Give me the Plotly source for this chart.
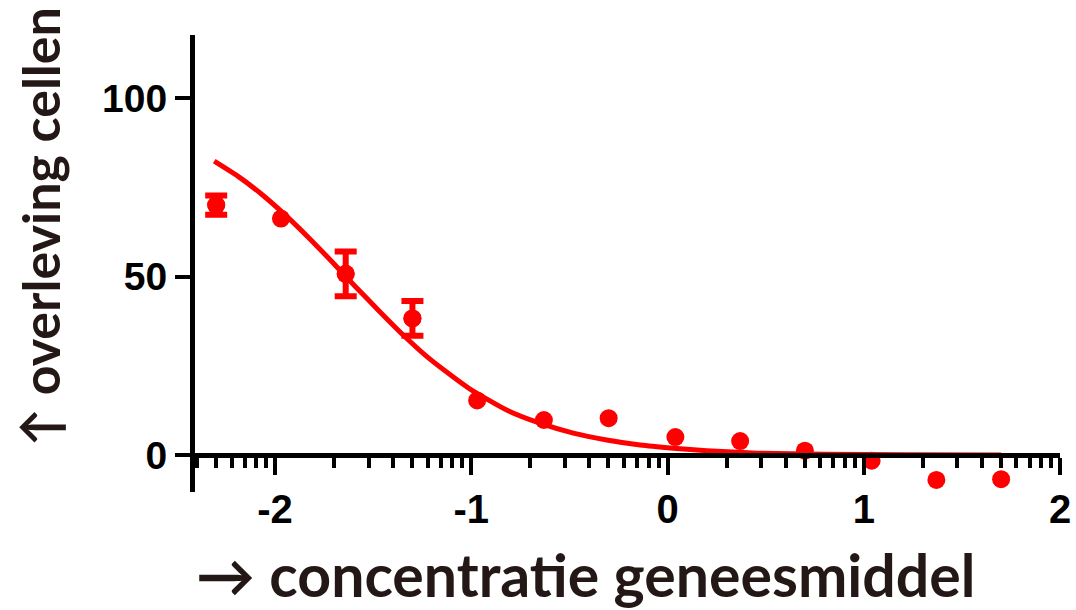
import math
import plotly.graph_objects as go

# ---- data ----
log_conc = [-2.30, -1.97, -1.64, -1.30, -0.97, -0.63, -0.30, 0.04, 0.37, 0.70, 1.04, 1.37, 1.70]
survival = [70.1, 66.3, 50.8, 38.3, 15.3, 9.8, 10.3, 5.0, 3.9, 1.2, -1.6, -7.0, -6.8]
survival_err = [2.7, None, 6.3, 4.9, None, None, None, None, None, None, None, None, None]

fit_x = [-2.31, -2.19, -2.07, -1.95, -1.83, -1.71, -1.59, -1.47, -1.35, -1.22, -1.08,
         -0.99, -0.82, -0.65, -0.48, -0.31, -0.14, 0.03, 0.20, 0.46, 0.80, 1.20, 1.70]
fit_y = [82.4, 78.2, 73.2, 67.4, 61.0, 54.2, 47.2, 40.4, 33.8, 27.3, 21.4,
         17.9, 12.6, 8.9, 6.1, 4.2, 2.8, 1.9, 1.2, 0.5, 0.2, 0.05, 0.0]

x_tickvals = [-2, -1, 0, 1, 2]
x_ticktext = ["-2", "-1", "0", "1", "2"]
y_tickvals = [0, 50, 100]
y_ticktext = ["0", "50", "100"]

x_title = "\u2192 concentratie geneesmiddel"
y_title = "\u2191 overleving cellen"

X_RANGE = [-2.408, 2.0]
Y_RANGE = [-10.4, 117.8]

# log-style minor ticks
minor_vals = []
for d in range(-3, 2):
    for k in range(2, 10):
        v = d + math.log10(k)
        if X_RANGE[0] < v < X_RANGE[1]:
            minor_vals.append(v)

RED = "#ff0000"
TXT = "#231815"

W, H = 1076, 610
L, R, T, B = 195, 16, 35, 118
PW, PH = W - L - R, H - T - B


def px(xp):
    return (xp - L) / PW


def py(yp):
    return (H - B - yp) / PH


err_idx = [i for i, e in enumerate(survival_err) if e is not None]

fig = go.Figure()
fig.add_trace(go.Scatter(
    x=log_conc, y=survival, mode="markers",
    marker=dict(size=18, color=RED),
    showlegend=False, cliponaxis=False,
))
fig.add_trace(go.Scatter(
    x=[log_conc[i] for i in err_idx], y=[survival[i] for i in err_idx],
    mode="markers", marker=dict(size=18, color=RED),
    error_y=dict(type="data", array=[survival_err[i] for i in err_idx], visible=True,
                 color=RED, thickness=6, width=11),
    showlegend=False, cliponaxis=False,
))
fig.add_trace(go.Scatter(
    x=fit_x, y=fit_y, mode="lines",
    line=dict(color=RED, width=5, shape="spline", smoothing=0.5),
    showlegend=False, cliponaxis=False,
))

tickfont_x = dict(family="Liberation Sans", size=40, color="black", weight="bold")
tickfont_y = dict(family="Liberation Sans", size=39, color="black", weight="bold")

fig.update_layout(
    width=W, height=H,
    margin=dict(l=L, r=R, t=T, b=B, pad=0, autoexpand=False),
    paper_bgcolor="white", plot_bgcolor="white",
    xaxis=dict(
        range=X_RANGE, anchor="free", position=py(455), automargin=False,
        showline=True, linewidth=5, linecolor="black",
        ticks="outside", ticklen=17, tickwidth=4, tickcolor="black",
        tickvals=x_tickvals, ticktext=x_ticktext, tickfont=tickfont_x,
        showgrid=False, zeroline=False,
        minor=dict(tickvals=minor_vals, ticks="outside", ticklen=10,
                   tickwidth=4, tickcolor="black", showgrid=False),
    ),
    yaxis=dict(
        range=Y_RANGE, automargin=False,
        showline=True, linewidth=5, linecolor="black",
        ticks="outside", ticklen=15, tickwidth=4, tickcolor="black",
        tickvals=y_tickvals, ticktext=y_ticktext, tickfont=tickfont_y,
        showgrid=False, zeroline=False,
    ),
    annotations=[
        dict(text=x_title, xref="paper", yref="paper", x=px(585), y=py(574),
             showarrow=False, xanchor="center", yanchor="middle",
             font=dict(family="Lato", size=59, color=TXT, weight="bold")),
        dict(text=y_title, xref="paper", yref="paper", x=px(40), y=py(227),
             showarrow=False, xanchor="center", yanchor="middle", textangle=-90,
             font=dict(family="Lato", size=52, color=TXT, weight="bold")),
    ],
)

# remove the default page margin so the figure fills the window exactly
page_css = ("document.documentElement.style.margin='0';"
            "document.body.style.margin='0';"
            "document.body.style.overflow='hidden';"
            "document.documentElement.style.overflow='hidden';")

fig.write_html("out.html", post_script=page_css,
               config={"displayModeBar": False})
